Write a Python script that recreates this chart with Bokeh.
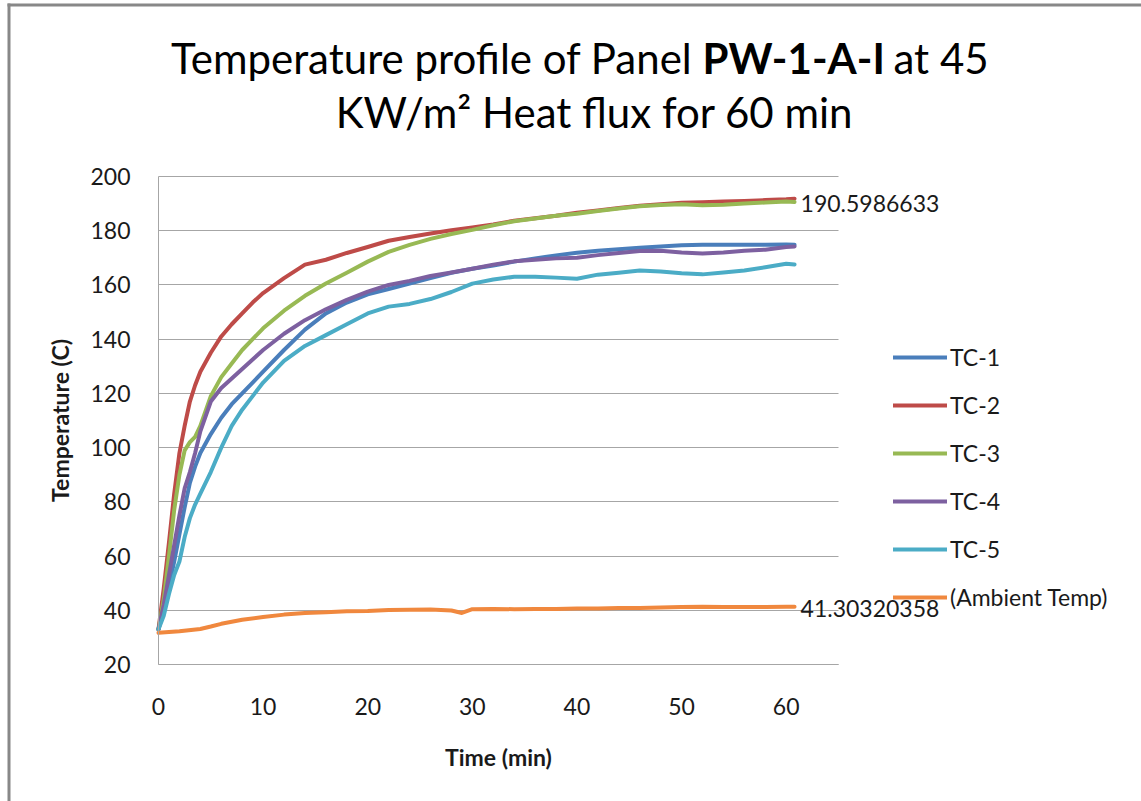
from bokeh.plotting import figure
from bokeh.models import (Range1d, Legend, LegendItem, Label, BoxAnnotation, FixedTicker,
                          LinearAxis, Grid)
from bokeh.embed import file_html
from bokeh.resources import INLINE

# ---------------- data ----------------
time = [0, 0.5, 1, 1.5, 2, 2.5, 3, 3.5, 4, 5, 6, 7, 8, 9, 10, 12, 14, 16, 18, 20,
        22, 24, 26, 28, 30, 32, 34, 36, 38, 40, 42, 44, 46, 48, 50, 52, 54, 56, 58, 60, 60.8]
tc1 = [33, 40, 49, 58, 68, 78, 87, 93, 98, 105, 111, 116, 120, 124, 128, 136, 143.5, 149.5, 153.5, 156.5,
       158.5, 160.5, 162.5, 164.5, 166, 167.2, 168.6, 169.8, 170.9, 171.9, 172.6, 173.2, 173.7, 174.2, 174.6,
       174.8, 174.8, 174.8, 174.8, 174.9, 174.8]
tc2 = [33, 48, 65, 83, 98, 108, 117, 123, 128, 135, 141, 145.5, 149.5, 153.5, 157, 162.5, 167.5, 169.3, 171.8, 174,
       176.3, 177.7, 179, 180.2, 181.2, 182.3, 183.7, 184.6, 185.5, 186.6, 187.5, 188.4, 189.2, 189.8, 190.3,
       190.5, 190.8, 191, 191.3, 191.6, 191.8]
tc3 = [33, 44, 60, 77, 90, 99, 102, 104, 108, 119, 126, 131, 136, 140, 144, 150.5, 156, 160.5, 164.5, 168.6,
       172.2, 174.8, 177, 178.8, 180.3, 182, 183.5, 184.5, 185.5, 186.3, 187.3, 188.2, 189, 189.5, 189.8,
       189.4, 189.6, 190, 190.4, 190.8, 190.5986633]
tc4 = [33, 42, 53, 64, 75, 85, 91, 98, 106, 117, 122, 125.5, 129, 132.5, 136, 142, 147, 151, 154.5, 157.5,
       160, 161.5, 163.3, 164.6, 166, 167.5, 168.7, 169.3, 169.8, 170, 171, 171.8, 172.5, 172.6, 172,
       171.6, 172, 172.6, 173, 174, 174.2]
tc5 = [33, 38, 46, 53, 58, 67, 74, 79, 83, 91, 100, 108, 114, 119, 124, 132, 137.5, 141.5, 145.5, 149.5,
       152, 153, 154.8, 157.4, 160.5, 162, 163, 163, 162.7, 162.3, 163.8, 164.5, 165.3, 165, 164.3,
       163.9, 164.6, 165.3, 166.5, 167.8, 167.5]
amb_time = [0, 2, 4, 5, 6, 8, 10, 12, 14, 16, 18, 20, 22, 24, 26, 28, 29, 30, 32, 34, 36, 38, 40,
            42, 44, 46, 48, 50, 52, 54, 56, 58, 60, 60.8]
ambient = [31.7, 32.3, 33.1, 34, 35, 36.5, 37.5, 38.4, 39, 39.3, 39.6, 39.7, 40.1, 40.2, 40.3, 39.9, 39.0,
           40.4, 40.5, 40.4, 40.5, 40.5, 40.7, 40.7, 40.8, 40.8, 41.0, 41.2, 41.3, 41.2, 41.2, 41.2, 41.3,
           41.30320358]
series_names = ["TC-1", "TC-2", "TC-3", "TC-4", "TC-5", "(Ambient Temp)"]
x_ticks = [0, 10, 20, 30, 40, 50, 60]
y_ticks = [20, 40, 60, 80, 100, 120, 140, 160, 180, 200]
x_axis_bounds = (0, 65)
y_axis_bounds = (20, 200)

colors = ["#4A7EBB", "#BE4B48", "#98B954", "#7D60A0", "#4BACC6", "#F0883E"]
FONT = "Lato"
GRID = "#A6A6A6"
TXT = "#1a1a1a"

# ---------------- layout: the frame spans the whole canvas ----------------
W, H = 1141, 801
PX_L, PX_R, PX_T, PX_B = 158, 838, 176, 664          # plot-area pixel box
sx = (PX_R - PX_L) / (x_axis_bounds[1] - x_axis_bounds[0])
sy = (PX_B - PX_T) / (y_axis_bounds[1] - y_axis_bounds[0])
x_range = Range1d(x_axis_bounds[0] - PX_L / sx, x_axis_bounds[1] + (W - PX_R) / sx)
y_range = Range1d(y_axis_bounds[0] - (H - PX_B) / sy, y_axis_bounds[1] + PX_T / sy)

p = figure(width=W, height=H, output_backend="svg", toolbar_location=None,
           x_range=x_range, y_range=y_range, x_axis_location=None, y_axis_location=None,
           min_border=0)
p.min_border_left = p.min_border_right = p.min_border_top = p.min_border_bottom = 0
p.background_fill_color = "white"
p.border_fill_color = "white"
p.outline_line_color = None
p.xgrid.visible = False
p.ygrid.visible = False

# horizontal gridlines limited to the plot area
if "cross_bounds" in Grid.properties():
    g = Grid(dimension=1, ticker=FixedTicker(ticks=y_ticks), cross_bounds=x_axis_bounds,
             grid_line_color=GRID, grid_line_width=1)
    p.add_layout(g)
else:
    p.segment(x0=[x_axis_bounds[0]] * len(y_ticks), y0=y_ticks,
              x1=[x_axis_bounds[1]] * len(y_ticks), y1=y_ticks,
              line_color=GRID, line_width=1)

xax = LinearAxis(fixed_location=y_axis_bounds[0], bounds=x_axis_bounds,
                 ticker=FixedTicker(ticks=x_ticks), axis_label="Time (min)")
yax = LinearAxis(fixed_location=x_axis_bounds[0], bounds=y_axis_bounds,
                 ticker=FixedTicker(ticks=y_ticks), axis_label="Temperature (C)")
for ax in (xax, yax):
    ax.axis_line_color = GRID
    ax.major_tick_line_color = None
    ax.minor_tick_line_color = None
    ax.major_label_text_font = FONT
    ax.major_label_text_font_size = "23px"
    ax.major_label_text_color = TXT
    ax.axis_label_text_font = FONT
    ax.axis_label_text_font_size = "23px"
    ax.axis_label_text_font_style = "bold"
    ax.axis_label_text_color = TXT
xax.major_label_standoff = 27
xax.axis_label_standoff = 25
yax.major_label_standoff = 22
yax.axis_label_standoff = 13
p.add_layout(xax, "below")
p.add_layout(yax, "left")

all_series = [(time, tc1), (time, tc2), (time, tc3), (time, tc4), (time, tc5), (amb_time, ambient)]
renderers = []
for (xs, ys), c in zip(all_series, colors):
    r = p.line(xs, ys, line_color=c, line_width=4, line_join="round", line_cap="round")
    renderers.append(r)

legend = Legend(items=[LegendItem(label=n, renderers=[r]) for n, r in zip(series_names, renderers)],
                location=(893, H - 611))
legend.label_text_font = FONT
legend.label_text_font_size = "23px"
legend.label_text_color = TXT
legend.glyph_width = 54
legend.glyph_height = 20
legend.label_height = 20
legend.spacing = 20
legend.padding = 0
legend.margin = 0
legend.label_standoff = 3
legend.border_line_color = None
legend.background_fill_alpha = 0
p.add_layout(legend)

# data labels at the ends of TC-3 and ambient
for xs, ys in [(time, tc3), (amb_time, ambient)]:
    p.add_layout(Label(x=xs[-1], y=ys[-1], text=str(ys[-1]), x_offset=6, y_offset=-2,
                       text_baseline="middle", text_font=FONT, text_font_size="23px",
                       text_color=TXT))

# title (screen units: x from left, y from bottom of canvas)
tstyle = dict(x_units="screen", y_units="screen", text_font=FONT, text_font_size="42px",
              text_color="black", text_baseline="alphabetic")
p.add_layout(Label(x=692, y=H - 57, text="Temperature profile of Panel", text_align="right", **tstyle))
p.add_layout(Label(x=702, y=H - 57, text="PW-1-A-I", text_align="left", text_font_style="bold", **tstyle))
p.add_layout(Label(x=893, y=H - 57, text="at 45", text_align="left", **tstyle))
p.add_layout(Label(x=594, y=H - 111, text="KW/m\u00b2 Heat flux for 60 min", text_align="center", **tstyle))

# outer chart-area border (top and left edges)
bu = dict(left_units="screen", right_units="screen", top_units="screen", bottom_units="screen",
          fill_color="#888888", fill_alpha=1, line_alpha=0)
p.add_layout(BoxAnnotation(left=7, right=W, top=H - 3, bottom=H - 6, **bu))
p.add_layout(BoxAnnotation(left=7, right=10, top=H - 3, bottom=0, **bu))

open("out.html", "w").write(file_html(p, INLINE))
